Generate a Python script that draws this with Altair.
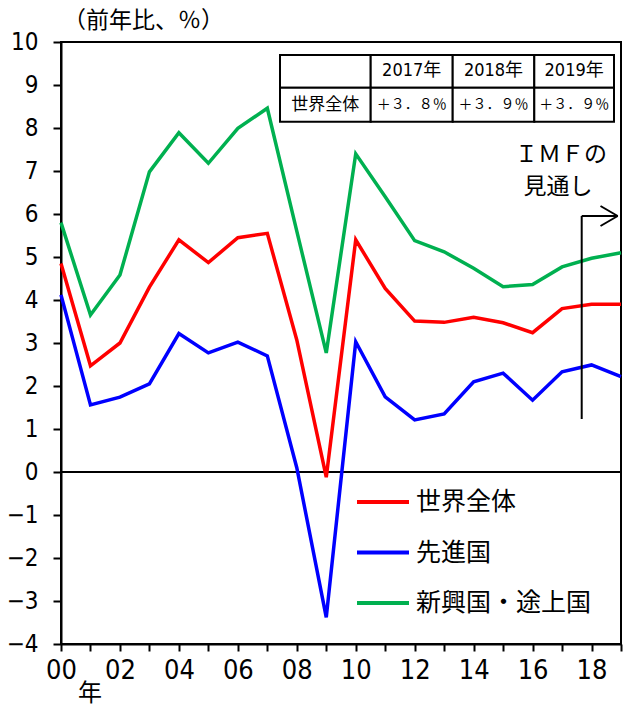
import json
import altair as alt
import pandas as pd

# Real GDP growth (year-on-year, %), 2000-2019
years = list(range(2000, 2020))
world = [4.85, 2.47, 3.00, 4.30, 5.40, 4.87, 5.45, 5.55, 3.07, -0.12,
         5.40, 4.27, 3.51, 3.48, 3.60, 3.47, 3.24, 3.80, 3.90, 3.90]
advanced = [4.12, 1.56, 1.74, 2.05, 3.22, 2.77, 3.02, 2.70, 0.10, -3.38,
            3.03, 1.75, 1.21, 1.35, 2.10, 2.30, 1.67, 2.33, 2.49, 2.22]
emerging = [5.80, 3.65, 4.58, 6.98, 7.89, 7.18, 7.99, 8.46, 5.60, 2.77,
            7.40, 6.40, 5.38, 5.12, 4.74, 4.31, 4.36, 4.77, 4.97, 5.10]

series_names = ["世界全体", "先進国", "新興国・途上国"]
series_colors = ["#FF0000", "#0000FF", "#00B050"]

y_ticks = list(range(-4, 11))
x_tick_labels = ["00", "", "02", "", "04", "", "06", "", "08", "", "10",
                 "", "12", "", "14", "", "16", "", "18", ""]

# Forecast table (world growth)
table_years = ["2017年", "2018年", "2019年"]
table_values = ["＋３．８％", "＋３．９％", "＋３．９％"]
table_row_label = "世界全体"

NUM_FONT = "Liberation Sans Narrow, DejaVu Sans Condensed, Noto Sans CJK JP, sans-serif"
JP_FONT = "Noto Sans CJK JP, sans-serif"

W, H = 560, 602

rows = []
for name, vals in zip(series_names, [world, advanced, emerging]):
    for yr, v in zip(years, vals):
        rows.append({"t": yr - 2000, "v": v, "series": name})
df = pd.DataFrame(rows)

x_scale = alt.Scale(domain=[0, 19], nice=False, zero=False)
y_scale = alt.Scale(domain=[-4, 10], nice=False, zero=False)

label_expr = json.dumps(x_tick_labels) + "[round(datum.value)]"

lines = alt.Chart(df).mark_line(strokeWidth=3.5).encode(
    x=alt.X("t:Q", scale=x_scale,
            axis=alt.Axis(values=list(range(20)), labelExpr=label_expr, title=None,
                          labelFont=NUM_FONT, labelFontSize=27, labelColor="black",
                          tickSize=7, tickWidth=2, tickColor="black",
                          domainColor="black", domainWidth=2, labelPadding=6,
                          labelFlush=False, labelBound=False,
                          grid=False, labelOverlap=False)),
    y=alt.Y("v:Q", scale=y_scale,
            axis=alt.Axis(values=y_ticks, title=None, format="d",
                          labelFont=NUM_FONT, labelFontSize=24, labelColor="black",
                          tickSize=8, tickWidth=2, tickColor="black",
                          domainColor="black", domainWidth=2, labelPadding=15,
                          labelFlush=False, grid=False)),
    color=alt.Color("series:N", scale=alt.Scale(domain=series_names, range=series_colors),
                    legend=None),
    order="t:Q",
)

zero_line = alt.Chart(pd.DataFrame({"z": [0]})).mark_rule(
    color="black", strokeWidth=2).encode(y=alt.Y("z:Q", scale=y_scale))

# Table cells (pixel layout inside the plot area)
col_edges = [219, 309.7, 391.7, 473.3, 553]
row_edges = [13, 45.7, 79.7]
cells = []
for r in range(2):
    for c in range(4):
        cells.append({"x0": col_edges[c], "x1": col_edges[c + 1],
                      "y0": row_edges[r], "y1": row_edges[r + 1]})
cell_df = pd.DataFrame(cells)
table_rects = alt.Chart(cell_df).mark_rect(fill="white", stroke="black", strokeWidth=2).encode(
    x=alt.X("x0:Q", scale=None, axis=None), x2="x1:Q",
    y=alt.Y("y0:Q", scale=None, axis=None), y2="y1:Q",
)

head_y = (row_edges[0] + row_edges[1]) / 2
body_y = (row_edges[1] + row_edges[2]) / 2
centers = [(col_edges[i] + col_edges[i + 1]) / 2 for i in range(4)]
head_df = pd.DataFrame({"x": centers[1:], "y": [head_y] * 3, "label": table_years})
body_df = pd.DataFrame({"x": centers[1:], "y": [body_y] * 3, "label": table_values})
rowlab_df = pd.DataFrame({"x": [centers[0]], "y": [body_y], "label": [table_row_label]})

head_text = alt.Chart(head_df).mark_text(font=NUM_FONT, fontSize=18, color="black",
                                          baseline="middle", align="center").encode(
    x=alt.X("x:Q", scale=None), y=alt.Y("y:Q", scale=None), text="label:N")
body_text = alt.Chart(body_df).mark_text(font=JP_FONT, fontSize=14, color="black",
                                          baseline="middle", align="center").encode(
    x=alt.X("x:Q", scale=None), y=alt.Y("y:Q", scale=None), text="label:N")
rowlab_text = alt.Chart(rowlab_df).mark_text(font=JP_FONT, fontSize=17, color="black",
                                              baseline="middle", align="center").encode(
    x=alt.X("x:Q", scale=None), y=alt.Y("y:Q", scale=None), text="label:N")

# Forecast marker: label and bent arrow
note_df = pd.DataFrame({"x": [500, 497], "y": [113, 145], "label": ["ＩＭＦの", "見通し"]})
note_text = alt.Chart(note_df).mark_text(font=JP_FONT, fontSize=23, color="black",
                                          baseline="middle", align="center").encode(
    x=alt.X("x:Q", scale=None), y=alt.Y("y:Q", scale=None), text="label:N")

arrow_df = pd.DataFrame({
    "x0": [520.7, 520.7, 539.5, 539.5],
    "y0": [377, 174, 164, 184],
    "x1": [520.7, 556.7, 556.7, 556.7],
    "y1": [174, 174, 174, 174],
})
arrow = alt.Chart(arrow_df).mark_rule(color="black", strokeWidth=2).encode(
    x=alt.X("x0:Q", scale=None), y=alt.Y("y0:Q", scale=None), x2="x1:Q", y2="y1:Q")

# Legend drawn inside the plot
leg_rows = [460, 510.5, 561]
leg_df = pd.DataFrame({"name": series_names, "y": leg_rows,
                       "x0": [296] * 3, "x1": [348] * 3, "tx": [355] * 3})
leg_lines = alt.Chart(leg_df).mark_rule(strokeWidth=4).encode(
    x=alt.X("x0:Q", scale=None), x2="x1:Q", y=alt.Y("y:Q", scale=None),
    color=alt.Color("name:N", scale=alt.Scale(domain=series_names, range=series_colors),
                    legend=None))
leg_text = alt.Chart(leg_df).mark_text(font=JP_FONT, fontSize=25, color="black",
                                        align="left", baseline="middle").encode(
    x=alt.X("tx:Q", scale=None), y=alt.Y("y:Q", scale=None), text="name:N")

# Unit labels outside the plot area
unit_left = alt.Chart(pd.DataFrame({"x": [2], "y": [-21], "label": ["（前年比、％）"]})).mark_text(
    font=JP_FONT, fontSize=23, color="black", align="left", baseline="middle").encode(
    x=alt.X("x:Q", scale=None), y=alt.Y("y:Q", scale=None), text="label:N")
unit_year = alt.Chart(pd.DataFrame({"x": [29], "y": [652], "label": ["年"]})).mark_text(
    font=JP_FONT, fontSize=24, color="black", align="center", baseline="middle").encode(
    x=alt.X("x:Q", scale=None), y=alt.Y("y:Q", scale=None), text="label:N")

chart = alt.layer(
    zero_line, lines, table_rects, head_text, body_text, rowlab_text,
    note_text, arrow, leg_lines, leg_text, unit_left, unit_year,
).resolve_scale(color="independent").properties(
    width=W, height=H,
    autosize=alt.AutoSizeParams(type="none"),
    padding={"left": 61, "top": 42, "right": 3, "bottom": 64},
    background="white",
).configure_view(stroke="black", strokeWidth=2)

chart.save("out.html", embed_options={"renderer": "svg", "actions": False})
